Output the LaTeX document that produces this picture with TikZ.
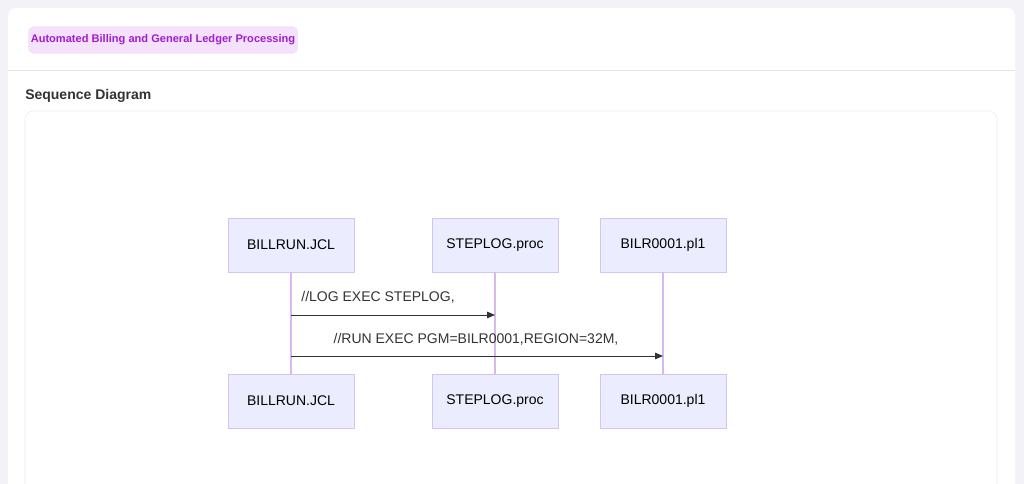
\documentclass[tikz,border=0pt]{standalone}
\usepackage{fontspec}
\setmainfont{Liberation Sans}
\usetikzlibrary{arrows.meta}
\definecolor{bg}{HTML}{F2F2F7}
\definecolor{actfill}{HTML}{ECECFF}
\definecolor{actdraw}{HTML}{D4C4F4}
\definecolor{life}{HTML}{D9B8F0}
\definecolor{tagfill}{HTML}{F4E1FB}
\definecolor{tagtext}{HTML}{A21CD0}
\definecolor{txt}{HTML}{333333}
\tikzset{
  actor/.style={draw=actdraw,fill=actfill,minimum width=94.5pt,minimum height=40.5pt,inner sep=0pt,font=\fontsize{10.5}{12}\selectfont,text=black},
  lifeline/.style={draw=life,line width=0.8pt},
  msg/.style={draw=txt,line width=0.7pt,-{Triangle[length=6pt,width=5pt]}},
  msglabel/.style={font=\fontsize{10.5}{12}\selectfont,text=txt}
}
\begin{document}
\begin{tikzpicture}[x=0.75pt,y=-0.75pt]
\useasboundingbox (0,0) rectangle (1024,484);
\fill[bg] (0,0) rectangle (1024,484);
\fill[white,rounded corners=6pt] (8,8) rectangle (1015,500);
\draw[gray!20] (8,70) -- (1015,70);
\node[fill=tagfill,draw=tagfill!70!purple!30,rounded corners=4pt,minimum width=202pt,minimum height=20pt,inner sep=0pt,font=\bfseries\fontsize{8.3}{10}\selectfont,text=tagtext] (tag) at (163,40) {Automated Billing and General Ledger Processing};
\node[anchor=west,font=\bfseries\fontsize{10.5}{12}\selectfont,text=txt,inner sep=0pt] (title) at (25,96) {Sequence Diagram};
\draw[gray!15,rounded corners=6pt] (25,500) -- (25,111) -- (997,111) -- (997,500);
\node[actor] (a1) at (291,245) {BILLRUN.JCL};
\node[actor] (b1) at (495,245) {STEPLOG.proc};
\node[actor] (c1) at (663,245) {BILR0001.pl1};
\node[actor] (a2) at (291,401) {BILLRUN.JCL};
\node[actor] (b2) at (495,401) {STEPLOG.proc};
\node[actor] (c2) at (663,401) {BILR0001.pl1};
\draw[lifeline] (a1) -- (a2);
\draw[lifeline] (b1) -- (b2);
\draw[lifeline] (c1) -- (c2);
\coordinate (m1s) at (291,315); \coordinate (m1e) at (495,315);
\coordinate (m2s) at (291,356); \coordinate (m2e) at (663,356);
\draw[msg] (m1s) -- (m1e);
\draw[msg] (m2s) -- (m2e);
\node[msglabel] (l1) at (378,297) {//LOG EXEC STEPLOG,};
\node[msglabel] (l2) at (476,339) {//RUN EXEC PGM=BILR0001,REGION=32M,};
\end{tikzpicture}
\end{document}
